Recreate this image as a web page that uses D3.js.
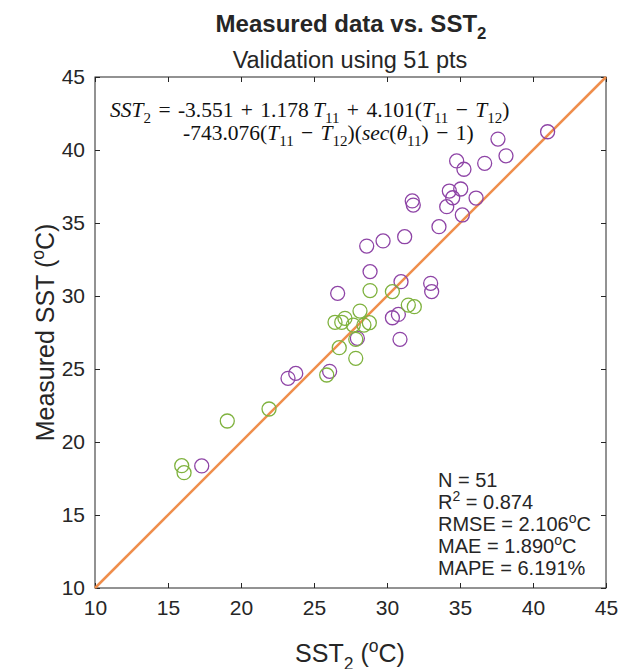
<!DOCTYPE html>
<html>
<head>
<meta charset="utf-8">
<title>Measured data vs. SST2</title>
<style>
  body { margin: 0; background: #fff; }
  text { font-family: "Liberation Sans", Arial, sans-serif; fill: #262626; }
  .eq text { font-family: "Liberation Serif", "Times New Roman", serif; fill: #111; }
</style>
</head>
<body>
<div id="chart"></div>
<script src="https://cdn.jsdelivr.net/npm/d3@7"></script>
<script>
// purple group: [SST2, measured]
var purpleX = [41.0, 37.6, 38.15, 34.77, 35.27, 36.69, 35.05, 34.27, 34.5, 36.1, 34.09, 35.16,
               31.73, 31.8, 33.56, 31.21, 29.73, 28.61, 28.84, 30.96, 32.99, 33.06, 26.62,
               30.37, 30.78, 30.89, 27.97, 23.75, 23.22, 26.07, 17.31];
var purpleY = [41.25, 40.75, 39.6, 39.25, 38.68, 39.09, 37.33, 37.19, 36.73, 36.71, 36.12, 35.55,
               36.51, 36.23, 34.75, 34.06, 33.77, 33.42, 31.67, 30.98, 30.87, 30.3, 30.18,
               28.51, 28.74, 27.03, 27.1, 24.7, 24.36, 24.84, 18.36];
// green group
var greenX = [28.84, 30.37, 31.46, 31.87, 28.15, 27.12, 26.44, 26.9, 27.69, 28.42, 28.79,
              27.86, 26.73, 27.86, 25.87, 21.92, 19.06, 15.94, 16.1];
var greenY = [30.37, 30.3, 29.38, 29.27, 28.97, 28.47, 28.2, 28.2, 28.01, 28.01, 28.17,
              27.03, 26.46, 25.73, 24.59, 22.26, 21.44, 18.38, 17.9];

var axisDomain = [10, 45];
var tickVals = [10, 15, 20, 25, 30, 35, 40, 45];
var statLines = [
  [["N = 51", ""]],
  [["R", ""], ["2", "sup"], [" = 0.874", ""]],
  [["RMSE = 2.106", ""], ["o", "sup"], ["C", ""]],
  [["MAE = 1.890", ""], ["o", "sup"], ["C", ""]],
  [["MAPE = 6.191%", ""]]
];

var W = 620, H = 669;
var pL = 95, pR = 606, pT = 77, pB = 588;

var svg = d3.select('#chart').append('svg')
    .attr('width', W).attr('height', H);

var x = d3.scaleLinear().domain(axisDomain).range([pL, pR]);
var y = d3.scaleLinear().domain(axisDomain).range([pB, pT]);

// frame
svg.append('rect')
  .attr('x', pL).attr('y', pT)
  .attr('width', pR - pL).attr('height', pB - pT)
  .attr('fill', 'none').attr('stroke', '#262626').attr('stroke-width', 1);

function styleAxis(g, showLabels) {
  g.select('.domain').remove();
  g.selectAll('.tick line').attr('stroke', '#262626');
  g.selectAll('.tick text').style('font-size', '21px').attr('fill', '#262626');
  if (!showLabels) g.selectAll('.tick text').remove();
}

svg.append('g').attr('transform', 'translate(0,' + pB + ')')
  .call(d3.axisBottom(x).tickValues(tickVals).tickSize(-5).tickPadding(12))
  .call(styleAxis, true);
svg.append('g').attr('transform', 'translate(0,' + pT + ')')
  .call(d3.axisTop(x).tickValues(tickVals).tickSize(-5))
  .call(styleAxis, false);
svg.append('g').attr('transform', 'translate(' + pL + ',0)')
  .call(d3.axisLeft(y).tickValues(tickVals).tickSize(-5).tickPadding(10))
  .call(styleAxis, true);
svg.append('g').attr('transform', 'translate(' + pR + ',0)')
  .call(d3.axisRight(y).tickValues(tickVals).tickSize(-5))
  .call(styleAxis, false);

// 1:1 line
svg.append('line')
  .attr('x1', x(axisDomain[0])).attr('y1', y(axisDomain[0]))
  .attr('x2', x(axisDomain[1])).attr('y2', y(axisDomain[1]))
  .attr('stroke', '#ef8e4c').attr('stroke-width', 2.5);

function drawPts(xs, ys, color) {
  svg.append('g').selectAll('circle')
    .data(xs.map(function(v, i){ return [v, ys[i]]; }))
    .enter().append('circle')
    .attr('cx', function(d){ return x(d[0]); })
    .attr('cy', function(d){ return y(d[1]); })
    .attr('r', 7)
    .attr('fill', 'none')
    .attr('stroke', color)
    .attr('stroke-width', 1.3);
}
drawPts(purpleX, purpleY, '#8e44a6');
drawPts(greenX, greenY, '#7fb23e');

// rich text helper: parts = [[text, kind]], kind: '', 'i', 'sub', 'sup', 'op'
function rich(t, parts, size, gap) {
  var ss = 0.7, pending = 0;
  parts.forEach(function(p) {
    var k = p[1];
    var s = t.append('tspan');
    if (pending) { s.attr('dx', pending); pending = 0; }
    if (k === 'op') {
      s.text(' ' + p[0] + ' ').attr('dx', gap);
      pending = gap;
      return;
    }
    s.text(p[0]);
    if (k === 'i') s.style('font-style', 'italic');
    if (k === 'sub') {
      s.attr('dy', size * 0.3).style('font-size', (size * ss) + 'px');
      t.append('tspan').attr('dy', -size * 0.3).text('\u200b');
    }
    if (k === 'sup') {
      s.attr('dy', -size * 0.4).style('font-size', (size * ss) + 'px');
      t.append('tspan').attr('dy', size * 0.4).text('\u200b');
    }
  });
}

// titles
var t1 = svg.append('text').attr('x', 351).attr('y', 32)
  .attr('text-anchor', 'middle').style('font-size', '24px').style('font-weight', 'bold');
rich(t1, [["Measured data vs. SST", ""], ["2", "sub"]], 24);
svg.append('text').attr('x', 350).attr('y', 68)
  .attr('text-anchor', 'middle').style('font-size', '23.5px')
  .text('Validation using 51 pts');

// axis labels
var xl = svg.append('text').attr('x', 350).attr('y', 662)
  .attr('text-anchor', 'middle').style('font-size', '25px');
rich(xl, [["SST", ""], ["2", "sub"], [" (", ""], ["o", "sup"], ["C)", ""]], 25);
var yl = svg.append('text')
  .attr('transform', 'translate(54,' + ((pT + pB) / 2) + ') rotate(-90)')
  .attr('text-anchor', 'middle').style('font-size', '25px');
rich(yl, [["Measured SST (", ""], ["o", "sup"], ["C)", ""]], 25);

// equation (LaTeX-like)
var eq = svg.append('g').attr('class', 'eq');
var e1 = eq.append('text').attr('x', 110).attr('y', 117).style('font-size', '21.5px');
rich(e1, [["SST", "i"], ["2", "sub"], ["=", "op"], ["-3.551", ""], ["+", "op"], ["1.178\u2009", ""], ["T", "i"], ["11", "sub"],
          ["+", "op"], ["4.101(", ""], ["T", "i"], ["11", "sub"], ["\u2212", "op"], ["T", "i"], ["12", "sub"], [")", ""]], 21.5, 2);
var e2 = eq.append('text').attr('x', 183).attr('y', 140).style('font-size', '21.5px');
rich(e2, [["-743.076(", ""], ["T", "i"], ["11", "sub"], ["\u2212", "op"], ["T", "i"], ["12", "sub"],
          [")(", ""], ["sec", "i"], ["(", ""], ["\u03b8", "i"], ["11", "sub"], [")", ""], ["\u2212", "op"], ["1)", ""]], 21.5, 2);

// stats
statLines.forEach(function(line, i) {
  var t = svg.append('text').attr('x', 438).attr('y', 487 + i * 22).style('font-size', '20px');
  rich(t, line, 20);
});
</script>
</body>
</html>
